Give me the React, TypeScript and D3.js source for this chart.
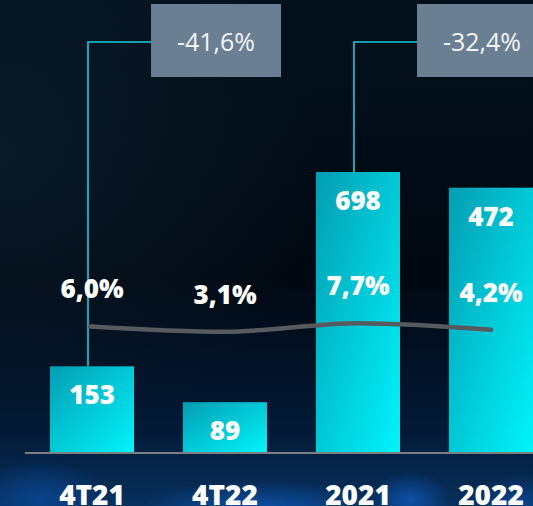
import React from "react";
import * as d3 from "d3";

const categories = ["4T21", "4T22", "2021", "2022"];
const values = [153, 89, 698, 472];
const margins = [6.0, 3.1, 7.7, 4.2];
const marginLabels = ["6,0%", "3,1%", "7,7%", "4,2%"];
const deltaFrom = ["4T21", "2021"];
const deltaLabels = ["-41,6%", "-32,4%"];

const W = 533;
const H = 506;
const baseY = 452;
const font = "'Open Sans', Roboto, sans-serif";

const App = () => {
  const x = d3
    .scaleBand<string>()
    .domain(categories)
    .range([50, 533])
    .paddingInner(0.368)
    .paddingOuter(0);

  // bar scale is clamped: the tallest annual bar is cut at the top
  const y = d3.scaleLinear().domain([0, 500]).range([baseY, 172]).clamp(true);
  const yPct = d3.scaleLinear().domain([0, 10]).range([337.5, 319]);

  const cx = (c: string) => (x(c) as number) + x.bandwidth() / 2;

  const line = d3
    .line<number>()
    .x((d, i) => (i === 0 ? (x(categories[0]) as number) + 40 : cx(categories[i])))
    .y((d) => yPct(d))
    .curve(d3.curveMonotoneX);

  return (
    <svg
      width={W}
      height={H}
      style={{ position: "absolute", left: 0, top: 0, display: "block" }}
    >
      <defs>
        <linearGradient id="bg" x1="0" y1="0" x2="0" y2="1">
          <stop offset="0%" stopColor="#03111c" />
          <stop offset="55%" stopColor="#010811" />
          <stop offset="85%" stopColor="#031a36" />
          <stop offset="100%" stopColor="#07305e" />
        </linearGradient>
        <radialGradient id="glowL" cx="0.5" cy="0.5" r="0.5">
          <stop offset="0%" stopColor="#0a4a9a" stopOpacity="0.8" />
          <stop offset="100%" stopColor="#0a4a9a" stopOpacity="0" />
        </radialGradient>
        <radialGradient id="glowB" cx="0.5" cy="0.5" r="0.5">
          <stop offset="0%" stopColor="#1060c8" stopOpacity="0.7" />
          <stop offset="100%" stopColor="#1060c8" stopOpacity="0" />
        </radialGradient>
        <radialGradient id="topL" cx="0" cy="0.3" r="0.6">
          <stop offset="0%" stopColor="#0c1e2e" stopOpacity="0.8" />
          <stop offset="100%" stopColor="#0c1e2e" stopOpacity="0" />
        </radialGradient>
        <linearGradient id="bar" x1="0" y1="0" x2="1" y2="1">
          <stop offset="0%" stopColor="#049db2" />
          <stop offset="100%" stopColor="#00f4fb" />
        </linearGradient>
      </defs>

      <rect x={0} y={0} width={W} height={H} fill="url(#bg)" />
      <rect x={0} y={0} width={W} height={H} fill="url(#topL)" />
      <ellipse cx={40} cy={500} rx={70} ry={40} fill="url(#glowL)" />
      <ellipse cx={260} cy={510} rx={120} ry={30} fill="url(#glowB)" />
      <ellipse cx={410} cy={500} rx={40} ry={28} fill="url(#glowB)" />
      <ellipse cx={520} cy={505} rx={50} ry={30} fill="url(#glowL)" />

      {/* connectors to the variation boxes */}
      {deltaFrom.map((c, i) => {
        const bx = (x(c) as number) + 38;
        const v = values[categories.indexOf(c)];
        const boxX = cx(c) + 59;
        return (
          <g key={c}>
            <path
              d={`M${bx},${y(v)}V42H${boxX}`}
              fill="none"
              stroke="#1ccbe0"
              strokeWidth={1.6}
            />
            <rect x={boxX} y={4} width={130} height={73} fill="#6a7f92" />
            <text
              x={boxX + 65}
              y={51}
              textAnchor="middle"
              fill="#f2f5f8"
              fontFamily={font}
              fontWeight={400}
              fontSize={25}
            >
              {deltaLabels[i]}
            </text>
          </g>
        );
      })}

      {categories.map((c, i) => (
        <rect
          key={c}
          x={x(c)}
          y={y(values[i])}
          width={x.bandwidth()}
          height={baseY - y(values[i])}
          fill="url(#bar)"
        />
      ))}

      <line x1={25} x2={W} y1={baseY + 1} y2={baseY + 1} stroke="#7a7f86" strokeWidth={2} />

      <path
        d={line(margins) || ""}
        fill="none"
        stroke="#575b5f"
        strokeWidth={4.5}
        strokeLinecap="round"
      />

      {categories.map((c, i) => (
        <text
          key={c + "v"}
          x={cx(c)}
          y={y(values[i]) + 38}
          textAnchor="middle"
          fill="#ffffff"
          fontFamily={font}
          fontWeight={800}
          fontSize={26}
        >
          {values[i]}
        </text>
      ))}

      {categories.map((c, i) => (
        <text
          key={c + "p"}
          x={cx(c)}
          y={yPct(margins[i]) - 28}
          textAnchor="middle"
          fill="#ffffff"
          fontFamily={font}
          fontWeight={800}
          fontSize={26}
        >
          {marginLabels[i]}
        </text>
      ))}

      {categories.map((c) => (
        <text
          key={c + "c"}
          x={cx(c)}
          y={505}
          textAnchor="middle"
          fill="#ffffff"
          fontFamily={font}
          fontWeight={800}
          fontSize={28}
        >
          {c}
        </text>
      ))}
    </svg>
  );
};

export default App;
